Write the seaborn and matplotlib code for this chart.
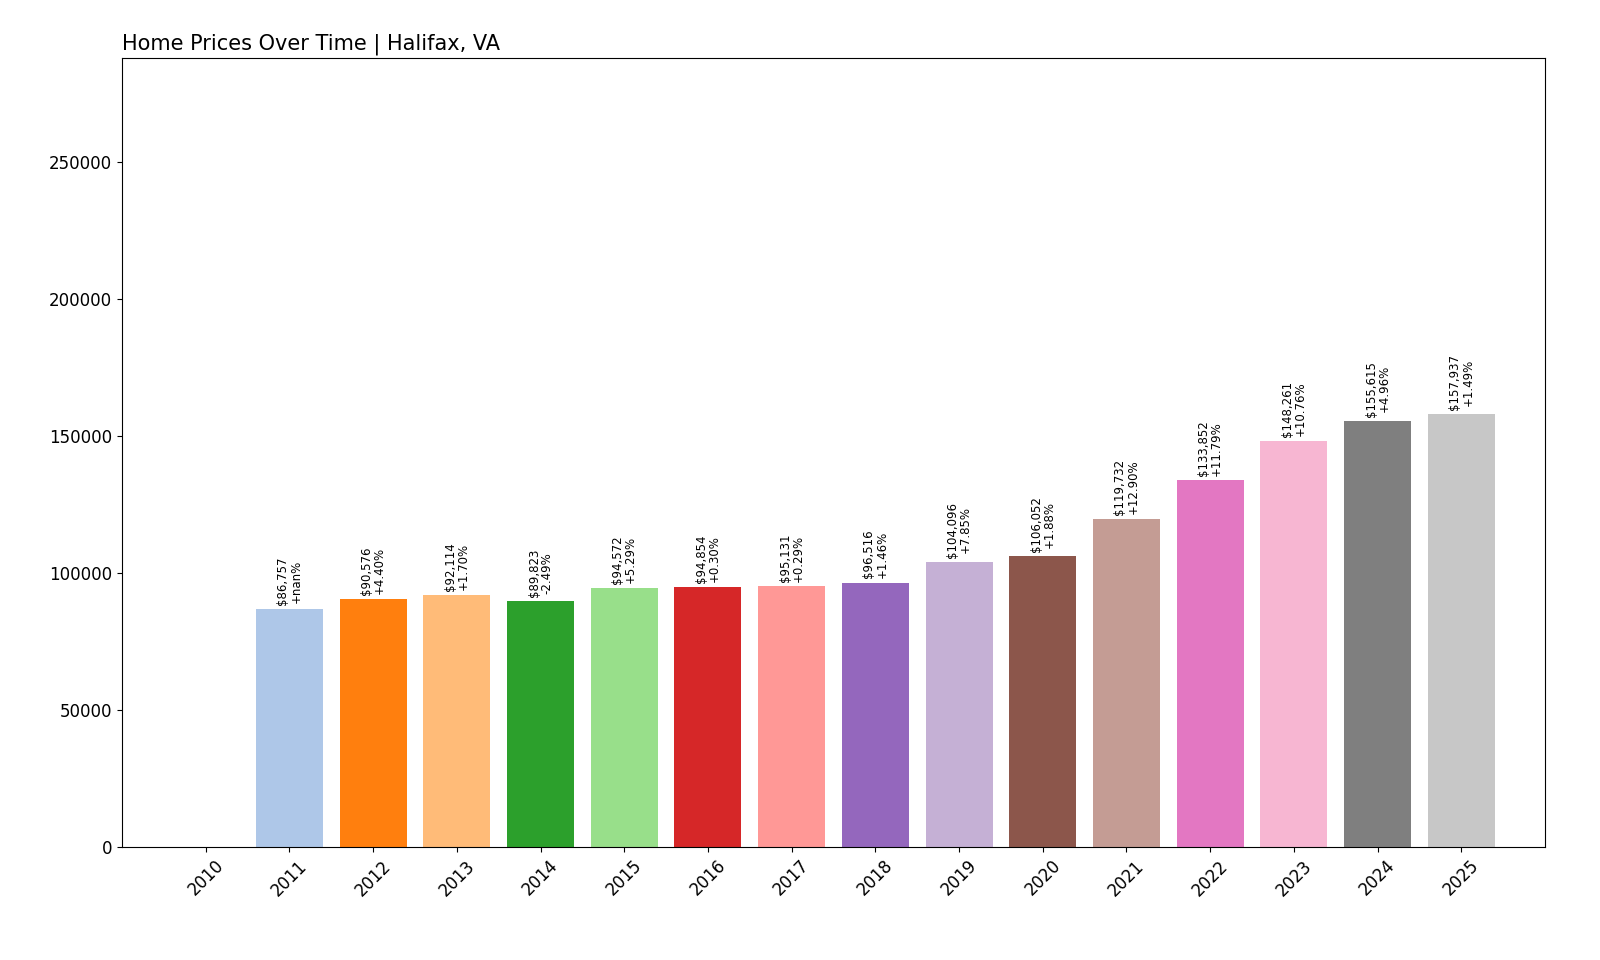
import matplotlib
matplotlib.use("Agg")
import matplotlib.pyplot as plt
import seaborn as sns
import numpy as np
import pandas as pd

years = [str(y) for y in range(2010, 2026)]
prices = [np.nan, 86757, 90576, 92114, 89823, 94572, 94854, 95131, 96516,
          104096, 106052, 119732, 133852, 148261, 155615, 157937]
pct_labels = [None, "+nan%", "+4.40%", "+1.70%", "-2.49%", "+5.29%", "+0.30%", "+0.29%",
              "+1.46%", "+7.85%", "+1.88%", "+12.90%", "+11.79%", "+10.76%", "+4.96%", "+1.49%"]

df = pd.DataFrame({"year": years, "price": prices})
colors = sns.color_palette("tab20", 20)[:16]

fig = plt.figure(figsize=(16, 9.6), dpi=100)
ax = fig.add_axes([122/1600, 1-847/960, (1545-122)/1600, (847-58)/960])
sns.barplot(data=df, x="year", y="price", hue="year", palette=colors, legend=False,
            ax=ax, width=0.8, saturation=1)
for i, (p, lab) in enumerate(zip(prices, pct_labels)):
    if np.isnan(p):
        continue
    ax.text(i, p + 1500, f"${p:,.0f}\n{lab}", rotation=90, ha="center", va="bottom",
            fontsize=8.5, linespacing=1.0)
ax.set_ylim(0, 288000)
ax.set_xlim(-1.0, 16.0)
ax.set_xlabel("")
ax.set_ylabel("")
ax.set_title("Home Prices Over Time | Halifax, VA", loc="left", fontsize=15)
ax.tick_params(axis="x", rotation=45, labelsize=12)
ax.tick_params(axis="y", labelsize=12)
fig.savefig("out.png", dpi=100)
